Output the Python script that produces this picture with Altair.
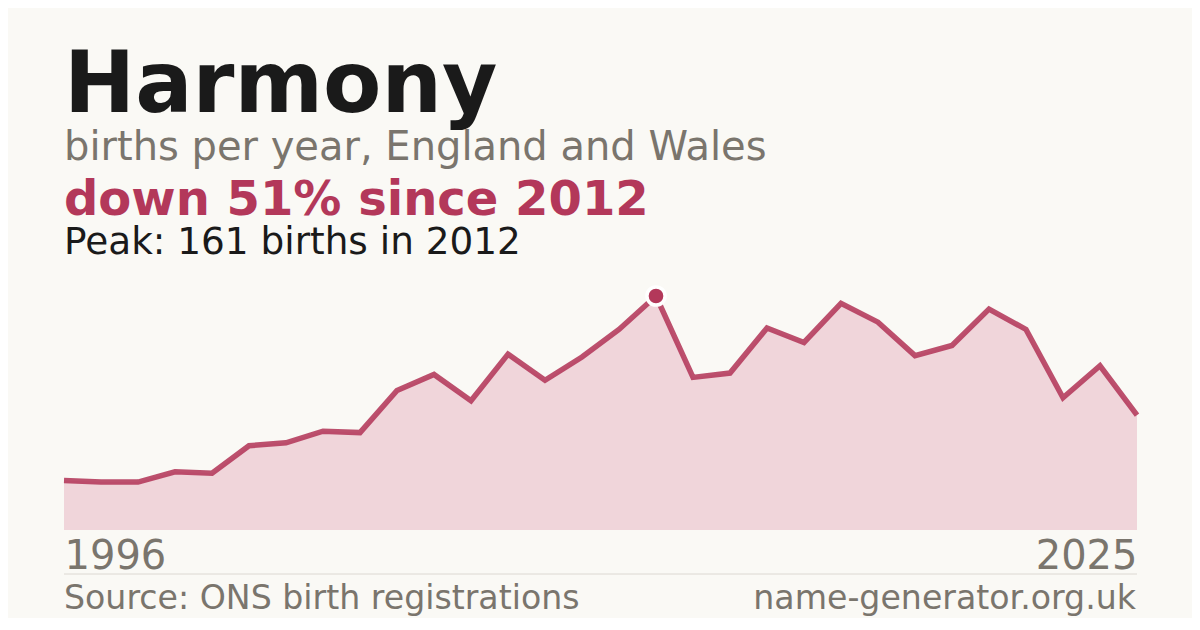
import altair as alt
import pandas as pd

# ---- data ----
years = list(range(1996, 2026))
births = [34, 33, 33, 40, 39, 58, 60, 68, 67, 96,
          107, 89, 121, 103, 119, 138, 161, 105, 108, 139,
          129, 156, 143, 120, 127, 152, 138, 91, 113, 79]
name = "Harmony"
subtitle = "births per year, England and Wales"
source = "Source: ONS birth registrations"
site = "name-generator.org.uk"

df = pd.DataFrame({"year": years, "births": births})
peak_i = max(range(len(births)), key=lambda i: births[i])
peak_year, peak_val = years[peak_i], births[peak_i]
last_val = births[-1]
change = round((1 - last_val / peak_val) * 100)
headline = f"down {change}% since {peak_year}"
peakline = f"Peak: {peak_val} births in {peak_year}"

BG = "#faf9f5"
CRIMSON = "#b3385a"
PINK = "#f0d5da"
GRAY = "#7a756d"
DARK = "#1a1a1a"
FONT = "DejaVu Sans"

W, H = 1073, 234

x = alt.X("year:Q",
          scale=alt.Scale(domain=[years[0], years[-1]], nice=False, zero=False),
          axis=alt.Axis(values=[years[0], years[-1]], format="d", title=None,
                        grid=False, ticks=False, tickSize=0, domain=False,
                        labelFontSize=40, labelColor=GRAY, labelFont=FONT,
                        labelFlush=True, labelBaseline="alphabetic",
                        labelPadding=38))
y = alt.Y("births:Q", scale=alt.Scale(domain=[0, peak_val], nice=False),
          axis=None)

base = alt.Chart(df)
area = base.mark_area(color=PINK, opacity=1).encode(x=x, y=y)
line = base.mark_line(color=CRIMSON, strokeWidth=5.5, opacity=0.88,
                      strokeJoin="miter").encode(x=x, y=y)
peak = alt.Chart(df.iloc[[peak_i]]).mark_circle(
    color=CRIMSON, opacity=1, size=330, stroke="white", strokeWidth=3.5
).encode(x=x, y=y)


def txt(s, yy, size, color, weight="normal", xx=0, align="left"):
    return alt.Chart(pd.DataFrame({"t": [s]})).mark_text(
        align=align, baseline="alphabetic", font=FONT, fontSize=size,
        fontWeight=weight, color=color
    ).encode(text="t:N", x=alt.value(xx), y=alt.value(yy))


t_title = txt(name, -184, 85, DARK, "bold")
t_sub = txt(subtitle, -136, 40, GRAY)
t_head = txt(headline, -81, 48, CRIMSON, "bold")
t_peak = txt(peakline, -42.5, 37.4, DARK)
t_src = txt(source, 313, 33.2, GRAY)
t_site = txt(site, 313, 33.2, GRAY, xx=W - 1, align="right")

sep = alt.Chart(pd.DataFrame({"a": [0]})).mark_rule(
    color="#dcd8d2", strokeWidth=1
).encode(x=alt.value(0), x2=alt.value(W), y=alt.value(278))

chart = alt.layer(
    area, line, peak, sep, t_title, t_sub, t_head, t_peak, t_src, t_site
).properties(
    width=W, height=H,
    autosize=alt.AutoSizeParams(type="none"),
    padding={"left": 56, "top": 288, "right": 55, "bottom": 88},
    background=BG,
).configure_view(stroke=None)

chart.save("out.html", embed_options={"renderer": "svg", "actions": False})
